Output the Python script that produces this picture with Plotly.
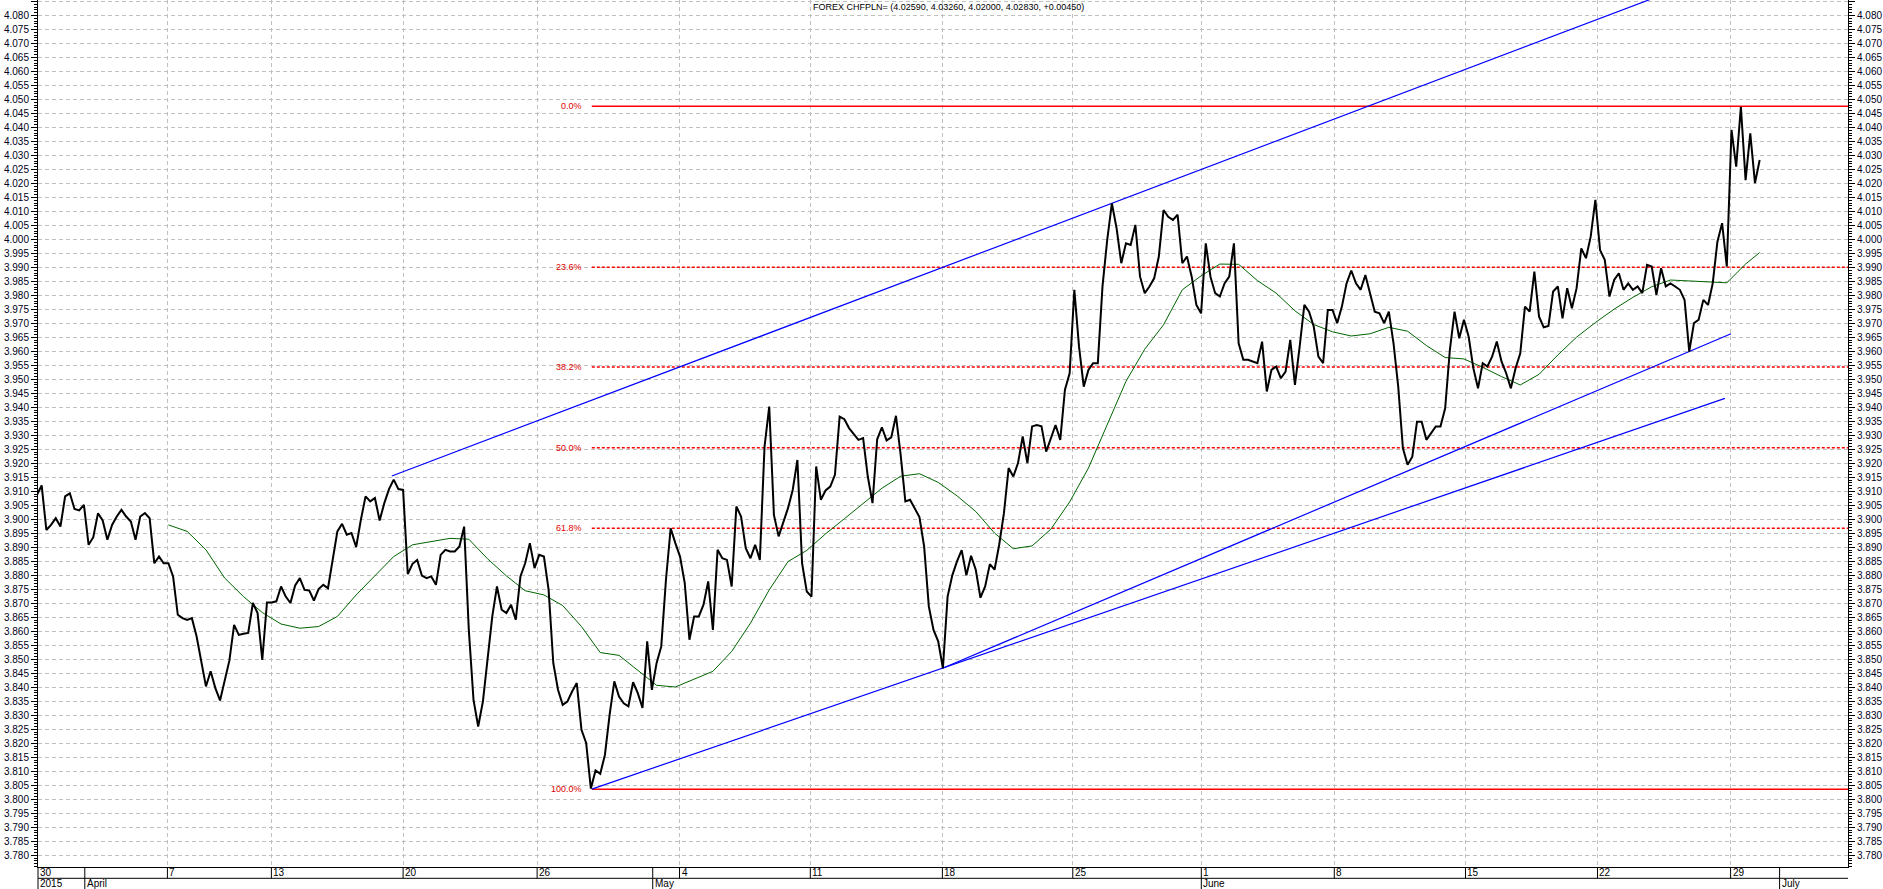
import plotly.graph_objects as go

# ---------------- data ----------------
title_text = "FOREX CHFPLN= (4.02590, 4.03260, 4.02000, 4.02830, +0.00450)"

# price samples on a regular trading-time grid (one sample per ~4 trading hours)
price = [
    3.9088, 3.9121, 3.8962, 3.8980, 3.9004, 3.8974, 3.9082, 3.9093, 3.9037, 3.9032,
    3.9052, 3.8909, 3.8936, 3.9022, 3.8996, 3.8927, 3.8980, 3.9010, 3.9034, 3.9010,
    3.8992, 3.8927, 3.9010, 3.9022, 3.9004, 3.8843, 3.8867, 3.8843, 3.8843, 3.8796,
    3.8659, 3.8647, 3.8641, 3.8647, 3.8582, 3.8486, 3.8403, 3.8457, 3.8397, 3.8353,
    3.8421, 3.8496, 3.8623, 3.8587, 3.8591, 3.8594, 3.8701, 3.8665, 3.8498, 3.8703,
    3.8703, 3.8707, 3.8760, 3.8724, 3.8701, 3.8764, 3.8790, 3.8748, 3.8746, 3.8710,
    3.8751, 3.8766, 3.8754, 3.8855, 3.8957, 3.8984, 3.8945, 3.8951, 3.8901, 3.8998,
    3.9082, 3.9064, 3.9076, 3.8996, 3.9058, 3.9108, 3.9142, 3.9108, 3.9105, 3.8804,
    3.8841, 3.8855, 3.8799, 3.8790, 3.8796, 3.8766, 3.8873, 3.8891, 3.8885, 3.8885,
    3.8903, 3.8974, 3.8605, 3.8355, 3.8260, 3.8349, 3.8498, 3.8653, 3.8760, 3.8677,
    3.8665, 3.8695, 3.8641, 3.8796, 3.8843, 3.8915, 3.8826, 3.8873, 3.8867, 3.8748,
    3.8486, 3.8391, 3.8337, 3.8349, 3.8385, 3.8415, 3.8248, 3.8201, 3.8038, 3.8103,
    3.8091, 3.8159, 3.8302, 3.8421, 3.8367, 3.8343, 3.8332, 3.8418, 3.8379, 3.8326,
    3.8564, 3.8391, 3.8486, 3.8546, 3.8784, 3.8968, 3.8915, 3.8867, 3.8772, 3.8570,
    3.8653, 3.8653, 3.8695, 3.8778, 3.8605, 3.8891, 3.8861, 3.8855, 3.8760, 3.9046,
    3.9010, 3.8897, 3.8861, 3.8909, 3.8855, 3.9260, 3.9403, 3.9016, 3.8939, 3.8992,
    3.9040, 3.9105, 3.9212, 3.8843, 3.8742, 3.8724, 3.9189, 3.9070, 3.9103, 3.9117,
    3.9159, 3.9367, 3.9358, 3.9326, 3.9305, 3.9284, 3.9290, 3.9153, 3.9058, 3.9286,
    3.9329, 3.9282, 3.9293, 3.9370, 3.9230, 3.9064, 3.9070, 3.9037, 3.9008, 3.8903,
    3.8689, 3.8605, 3.8564, 3.8468, 3.8724, 3.8800, 3.8850, 3.8890, 3.8800, 3.8870,
    3.8820, 3.8720, 3.8760, 3.8840, 3.8820, 3.8910, 3.9022, 3.9183, 3.9153, 3.9201,
    3.9296, 3.9201, 3.9332, 3.9337, 3.9332, 3.9242, 3.9290, 3.9337, 3.9284, 3.9463,
    3.9522, 3.9820, 3.9617, 3.9474, 3.9534, 3.9558, 3.9558, 3.9832, 3.9998, 4.0129,
    4.0040, 3.9915, 3.9986, 3.9980, 4.0052, 3.9867, 3.9808, 3.9832, 3.9861, 3.9939,
    4.0105, 4.0081, 4.0070, 4.0088, 3.9915, 3.9939, 3.9867, 3.9766, 3.9736, 3.9986,
    3.9867, 3.9808, 3.9796, 3.9843, 3.9867, 3.9986, 3.9629, 3.9570, 3.9570, 3.9564,
    3.9558, 3.9635, 3.9457, 3.9534, 3.9546, 3.9504, 3.9528, 3.9641, 3.9480, 3.9617,
    3.9766, 3.9742, 3.9689, 3.9581, 3.9558, 3.9748, 3.9748, 3.9701, 3.9760, 3.9843,
    3.9889, 3.9843, 3.9820, 3.9873, 3.9808, 3.9742, 3.9736, 3.9701, 3.9742, 3.9629,
    3.9474, 3.9254, 3.9195, 3.9224, 3.9349, 3.9349, 3.9284, 3.9308, 3.9332, 3.9332,
    3.9397, 3.9605, 3.9742, 3.9647, 3.9713, 3.9653, 3.9540, 3.9468, 3.9558, 3.9546,
    3.9581, 3.9635, 3.9564, 3.9522, 3.9468, 3.9540, 3.9593, 3.9760, 3.9742, 3.9885,
    3.9724, 3.9686, 3.9691, 3.9814, 3.9832, 3.9718, 3.9826, 3.9754, 3.9826, 3.9968,
    3.9933, 4.0010, 4.0141, 3.9962, 3.9927, 3.9796, 3.9855, 3.9879, 3.9820, 3.9843,
    3.9820, 3.9832, 3.9808, 3.9909, 3.9903, 3.9802, 3.9897, 3.9832, 3.9843, 3.9832,
    3.9820, 3.9784, 3.9599, 3.9701, 3.9713, 3.9784, 3.9766, 3.9843, 3.9992, 4.0058,
    3.9903, 4.0391, 4.0260, 4.0474, 4.0212, 4.0379, 4.0201, 4.0284,
]
bar = list(range(len(price)))  # time index of each sample

# moving average (green), sampled every 4th time index
ma_index = list(range(28, 365, 4)) + [367]
ma_value = [
    3.8980, 3.8957, 3.8891, 3.8790, 3.8724, 3.8667, 3.8626, 3.8611, 3.8617, 3.8653,
    3.8730, 3.8799, 3.8867, 3.8909, 3.8920, 3.8932, 3.8929, 3.8859, 3.8798, 3.8745,
    3.8730, 3.8692, 3.8617, 3.8524, 3.8514, 3.8462, 3.8407, 3.8401, 3.8428, 3.8457,
    3.8528, 3.8629, 3.8748, 3.8849, 3.8889, 3.8948, 3.9002, 3.9058, 3.9111, 3.9154,
    3.9163, 3.9132,
    3.9084, 3.9028, 3.8951, 3.8895, 3.8905, 3.8965, 3.9062, 3.9183, 3.9341, 3.9493,
    3.9608, 3.9695, 3.9820, 3.9870, 3.9912, 3.9911, 3.9853, 3.9808, 3.9745, 3.9696,
    3.9670, 3.9655, 3.9663, 3.9686, 3.9672, 3.9621, 3.9578, 3.9573, 3.9543, 3.9510,
    3.9480, 3.9518, 3.9587, 3.9651, 3.9703, 3.9751, 3.9793, 3.9831, 3.9855, 3.9852,
    3.9847, 3.9845, 3.9912, 3.9953,
]

# Fibonacci retracement (from the low to the high)
fib_low = 3.8036
fib_high = 4.0476
fib_start = 118.2
fib_pcts = [0.0, 23.6, 38.2, 50.0, 61.8, 100.0]

# channel / trend lines (time index, price)
upper_t = [75.6, 354.3]
upper_v = [3.9155, 4.0925]
lower_a_t = [118.2, 359.6]
lower_a_v = [3.8036, 3.9432]
lower_b_t = [192.8, 360.9]
lower_b_v = [3.8467, 3.9663]

# date axis
day_tick_t = [0.22, 27.79, 49.94, 78.00, 106.55, 136.89, 164.75, 192.89,
              220.67, 248.05, 276.38, 304.33, 332.45, 360.81]
day_tick_text = ["30", "7", "13", "20", "26", "4", "11", "18",
                 "25", "1", "8", "15", "22", "29"]
month_t = [0.22, 10.19, 131.18, 248.05, 371.25]
month_text = ["2015", "April", "May", "June", "July"]

x_range = [0.22, 385.82]
y_range = [3.77579, 4.08554]

# ---------------- figure ----------------
W, H = 1883, 889
ML, MR, MT, MB = 38, 35, 0, 22
PH = H - MT - MB
FONT = "Arial, Liberation Sans, sans-serif"

fig = go.Figure()

# fibonacci lines
for p in fib_pcts:
    lvl = fib_high - p / 100.0 * (fib_high - fib_low)
    solid = p in (0.0, 100.0)
    fig.add_trace(go.Scatter(
        x=[fib_start, x_range[1] + 5], y=[lvl, lvl], mode="lines",
        line=dict(color="#ff0000", width=1.5 if solid else 1.5,
                  dash="solid" if solid else "3px,2px"),
        hoverinfo="skip", showlegend=False))
    fig.add_annotation(x=fib_start, y=lvl, xref="x", yref="y", text=f"{p:.1f}%",
                       showarrow=False, xanchor="right", yanchor="middle", xshift=-8,
                       font=dict(family=FONT, size=9, color="#e00000"))

# channel lines
for tt, vv in ((upper_t, upper_v), (lower_a_t, lower_a_v), (lower_b_t, lower_b_v)):
    fig.add_trace(go.Scatter(x=tt, y=vv, mode="lines",
                             line=dict(color="#0000ff", width=1.2),
                             hoverinfo="skip", showlegend=False))

# moving average
fig.add_trace(go.Scatter(x=ma_index, y=ma_value, mode="lines",
                         line=dict(color="#006400", width=1),
                         hoverinfo="skip", showlegend=False))

# price
fig.add_trace(go.Scatter(x=bar, y=price, mode="lines",
                         line=dict(color="#000000", width=2),
                         showlegend=False))

# invisible trace for right-hand axis
fig.add_trace(go.Scatter(x=[bar[0], bar[-1]], y=[price[0], price[-1]], yaxis="y2",
                         mode="lines", line=dict(width=0), opacity=0,
                         hoverinfo="skip", showlegend=False))

yaxis_common = dict(
    range=y_range, tick0=3.780, dtick=0.005, tickformat=".3f",
    ticks="outside", ticklen=6, tickcolor="black", tickwidth=1,
    minor=dict(dtick=0.001, tick0=3.780, ticks="outside", ticklen=3,
               tickcolor="black", showgrid=False),
    showline=True, linecolor="black", linewidth=1, zeroline=False,
    tickfont=dict(family=FONT, size=10, color="#000020"),
    fixedrange=True,
)

fig.update_layout(
    width=W, height=H,
    margin=dict(l=ML, r=MR, t=MT, b=MB, pad=0),
    paper_bgcolor="white", plot_bgcolor="white",
    showlegend=False,
    xaxis=dict(range=x_range, tickvals=day_tick_t[1:], showticklabels=False, ticks="",
               showgrid=True, gridcolor="#c0c0c0", gridwidth=1, griddash="4px,3px",
               showline=True, linecolor="black", linewidth=1, zeroline=False),
    yaxis=dict(side="left", showgrid=True, gridcolor="#c0c0c0", gridwidth=1,
               griddash="4px,3px", **yaxis_common),
    yaxis2=dict(side="right", overlaying="y", showgrid=False, **yaxis_common),
)

# date strip below the plot
def px_to_paper_y(py):
    return 1 - (py - MT) / PH

def t_to_paper_x(t):
    return (t - x_range[0]) / (x_range[1] - x_range[0])

row1_top, row1_bot, row2_bot = 867.0, 878.3, 895.0
shapes = []
shapes.append(dict(type="line", xref="paper", yref="paper", x0=0, x1=1,
                   y0=px_to_paper_y(row1_bot), y1=px_to_paper_y(row1_bot),
                   line=dict(color="black", width=1)))
for t in day_tick_t + [10.19, 131.18, 371.25]:
    shapes.append(dict(type="line", xref="paper", yref="paper",
                       x0=t_to_paper_x(t), x1=t_to_paper_x(t),
                       y0=px_to_paper_y(row1_top), y1=px_to_paper_y(row1_bot),
                       line=dict(color="black", width=1)))
for t in month_t:
    shapes.append(dict(type="line", xref="paper", yref="paper",
                       x0=t_to_paper_x(t), x1=t_to_paper_x(t),
                       y0=px_to_paper_y(row1_bot), y1=px_to_paper_y(row2_bot),
                       line=dict(color="black", width=1)))
fig.update_layout(shapes=shapes)

for t, txt in zip(day_tick_t, day_tick_text):
    fig.add_annotation(x=t, y=px_to_paper_y(872.8), xref="x", yref="paper", text=txt,
                       showarrow=False, xanchor="left", yanchor="middle", xshift=0,
                       font=dict(family=FONT, size=10, color="black"))
for t, txt in zip(month_t, month_text):
    fig.add_annotation(x=t, y=px_to_paper_y(884.0), xref="x", yref="paper", text=txt,
                       showarrow=False, xanchor="left", yanchor="middle", xshift=0,
                       font=dict(family=FONT, size=10, color="black"))

# title
fig.add_annotation(x=(810.7 - ML) / (W - ML - MR), y=1, xref="paper", yref="paper",
                   text=title_text, showarrow=False, xanchor="left", yanchor="top",
                   font=dict(family=FONT, size=9, color="black"))

fig.write_html("out.html")
